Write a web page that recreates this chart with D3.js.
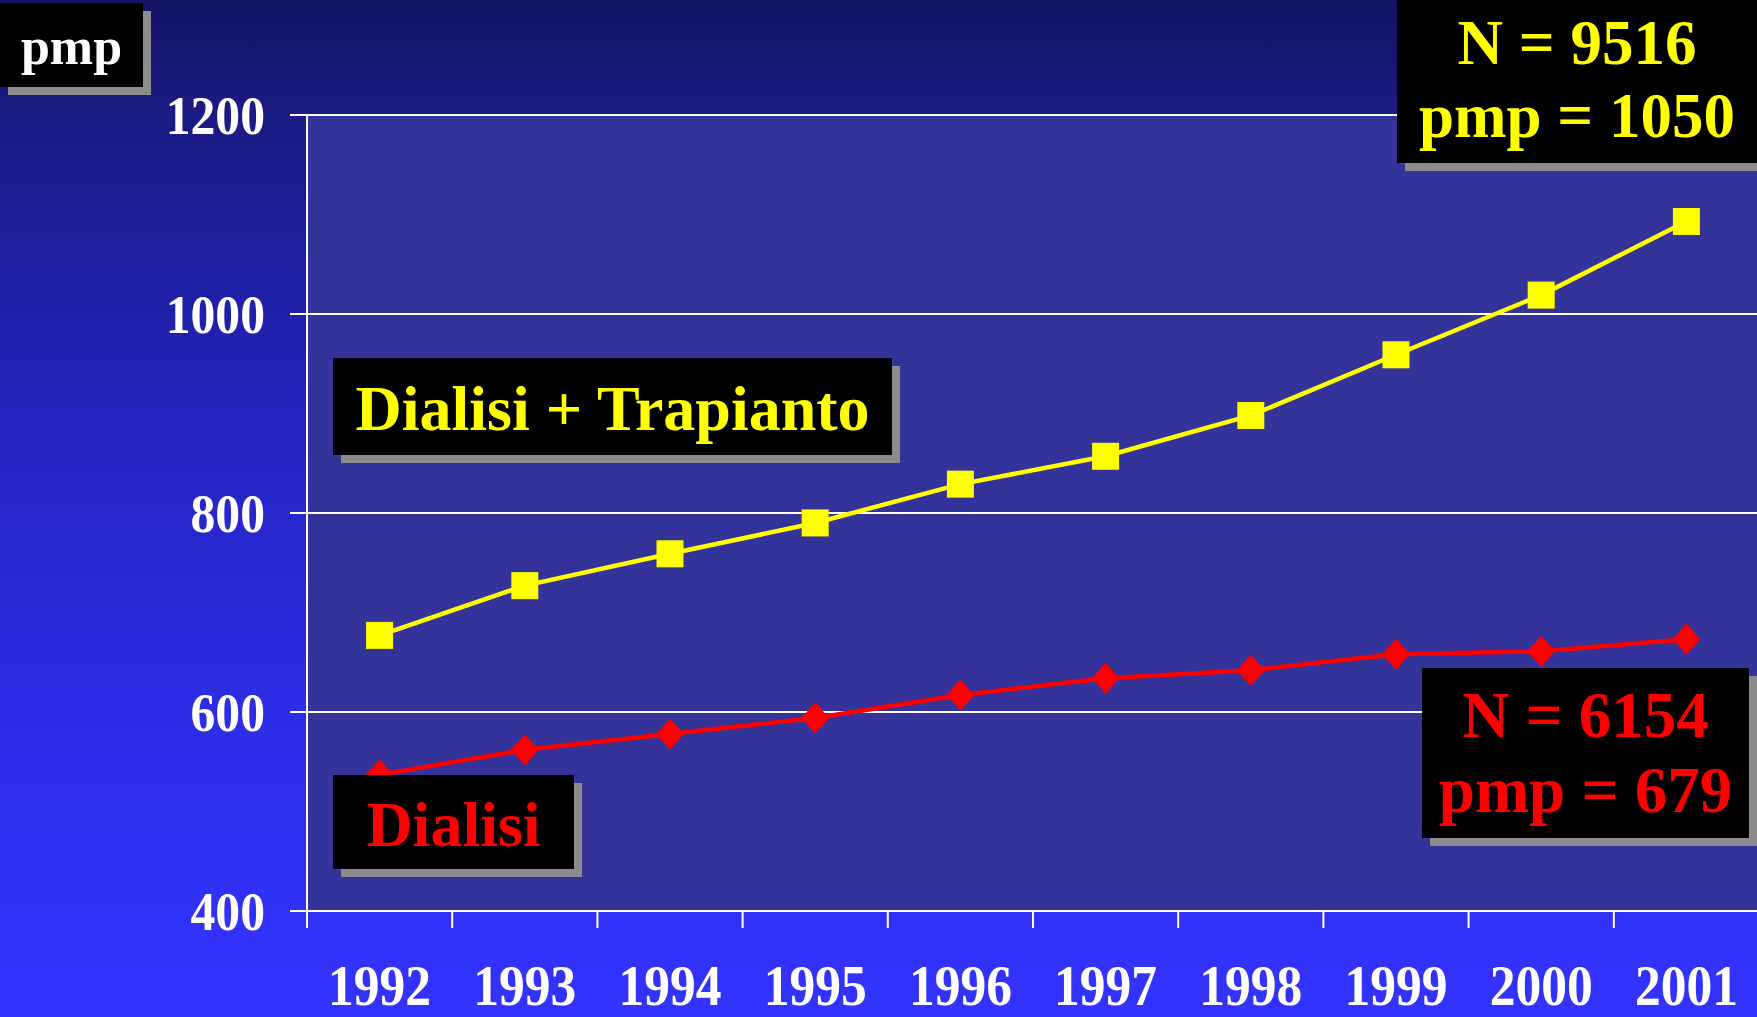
<!DOCTYPE html>
<html>
<head>
<meta charset="utf-8">
<script src="https://cdn.jsdelivr.net/npm/d3@7"></script>
<style>
  html, body { margin: 0; padding: 0; overflow: hidden; }
  svg { display: block; }
  text { font-family: "Liberation Serif", "Times New Roman", serif; font-weight: bold; }
</style>
</head>
<body>
<div id="chart"></div>
<script>
// data
const years = ["1992", "1993", "1994", "1995", "1996", "1997", "1998", "1999", "2000", "2001"];
const dialisiTrapianto = [677, 727, 759, 790, 829, 857, 898, 959, 1019, 1093];
const dialisi = [537, 562, 578, 594, 617, 634, 642, 658, 661, 673];
const yTicks = [400, 600, 800, 1000, 1200];

const width = 1757, height = 1017;
const margin = {top: 115, right: -2, bottom: 106, left: 307};

let svg = d3.select("#chart").append("svg")
  .attr("width", width)
  .attr("height", height);

// background gradient, dark navy at the top to bright blue
let defs = svg.append("defs");
let grad = defs.append("linearGradient")
  .attr("id", "bg")
  .attr("x1", 0).attr("y1", 0).attr("x2", 0).attr("y2", 1);
[[0, "#141462"], [0.1, "#1a1a80"], [0.4, "#2323bd"], [0.7, "#2d2de6"], [1, "#3333ff"]]
  .forEach(s => grad.append("stop").attr("offset", s[0]).attr("stop-color", s[1]));

svg.append("rect").attr("width", width).attr("height", height).attr("fill", "url(#bg)");

let x = d3.scaleBand()
  .domain(years)
  .range([margin.left, width - margin.right]);

let y = d3.scaleLinear()
  .domain([400, 1200])
  .range([height - margin.bottom, margin.top]);

// plot area
svg.append("rect")
  .attr("x", x.range()[0])
  .attr("y", y(1200))
  .attr("width", x.range()[1] - x.range()[0])
  .attr("height", y(400) - y(1200))
  .attr("fill", "#333399");

// gridlines
svg.append("g")
  .selectAll("line")
  .data(yTicks)
  .enter()
  .append("line")
  .attr("x1", margin.left - 17)
  .attr("x2", width)
  .attr("y1", d => y(d))
  .attr("y2", d => y(d))
  .attr("stroke", "white")
  .attr("stroke-width", 2);

// y axis line
svg.append("line")
  .attr("x1", margin.left).attr("x2", margin.left)
  .attr("y1", y(1200)).attr("y2", y(400) + 17)
  .attr("stroke", "white").attr("stroke-width", 2);

// x ticks at band boundaries
svg.append("g")
  .selectAll("line")
  .data(years.slice(1))
  .enter()
  .append("line")
  .attr("x1", d => x(d)).attr("x2", d => x(d))
  .attr("y1", y(400)).attr("y2", y(400) + 17)
  .attr("stroke", "white").attr("stroke-width", 2);

// y tick labels
svg.append("g")
  .selectAll("text")
  .data(yTicks)
  .enter()
  .append("text")
  .attr("class", "squeeze")
  .attr("x", 265)
  .attr("y", d => y(d) + 19)
  .attr("text-anchor", "end")
  .attr("font-size", 54)
  .attr("fill", "white")
  .text(d => d);

// x tick labels
svg.append("g")
  .selectAll("text")
  .data(years)
  .enter()
  .append("text")
  .attr("class", "squeeze")
  .attr("x", d => x(d) + x.bandwidth() / 2)
  .attr("y", 1005)
  .attr("text-anchor", "middle")
  .attr("font-size", 56)
  .attr("fill", "white")
  .text(d => d);

// series
let line = d3.line()
  .x((d, i) => x(years[i]) + x.bandwidth() / 2)
  .y(d => y(d));

svg.append("path")
  .datum(dialisiTrapianto)
  .attr("d", line)
  .attr("fill", "none")
  .attr("stroke", "#ffff00")
  .attr("stroke-width", 4.5);

svg.append("path")
  .datum(dialisi)
  .attr("d", line)
  .attr("fill", "none")
  .attr("stroke", "#ff0000")
  .attr("stroke-width", 4.5);

svg.append("g")
  .selectAll("path")
  .data(dialisiTrapianto)
  .enter()
  .append("path")
  .attr("d", d3.symbol().type(d3.symbolSquare).size(27 * 27))
  .attr("transform", (d, i) => "translate(" + (x(years[i]) + x.bandwidth() / 2) + "," + y(d) + ")")
  .attr("fill", "#ffff00");

// wide diamond like the original markers
const wideDiamond = {
  draw(ctx, size) {
    let h = Math.sqrt(size) / 2;
    let w = h * 0.9;
    ctx.moveTo(0, -h);
    ctx.lineTo(w, 0);
    ctx.lineTo(0, h);
    ctx.lineTo(-w, 0);
    ctx.closePath();
  }
};

svg.append("g")
  .selectAll("path")
  .data(dialisi)
  .enter()
  .append("path")
  .attr("d", d3.symbol().type(wideDiamond).size(31 * 31))
  .attr("transform", (d, i) => "translate(" + (x(years[i]) + x.bandwidth() / 2) + "," + y(d) + ")")
  .attr("fill", "#ff0000");

// boxes with gray drop shadow
function labelBox(x0, y0, x1, y1, lines, color, size) {
  let g = svg.append("g");
  g.append("rect")
    .attr("x", x0 + 8).attr("y", y0 + 8)
    .attr("width", x1 - x0).attr("height", y1 - y0)
    .attr("fill", "#8c8c8c");
  g.append("rect")
    .attr("x", x0).attr("y", y0)
    .attr("width", x1 - x0).attr("height", y1 - y0)
    .attr("fill", "#000000");
  lines.forEach(l => {
    g.append("text")
      .attr("x", (x0 + x1) / 2)
      .attr("y", l.y)
      .attr("text-anchor", "middle")
      .attr("font-size", size)
      .attr("fill", color)
      .text(l.t);
  });
}

labelBox(0, 3, 143, 87, [{t: "pmp", y: 64}], "white", 52);
labelBox(1397, -10, 1757, 163, [{t: "N = 9516", y: 64}, {t: "pmp = 1050", y: 137}], "#ffff00", 63);
labelBox(333, 358, 892, 455, [{t: "Dialisi + Trapianto", y: 430}], "#ffff00", 64);
labelBox(333, 775, 574, 869, [{t: "Dialisi", y: 846}], "#ff0000", 64);
labelBox(1422, 668, 1749, 838, [{t: "N = 6154", y: 737}, {t: "pmp = 679", y: 812}], "#ff0000", 65);

// tick labels look slightly condensed in the original
svg.selectAll("text.squeeze").each(function() {
  let len = this.getComputedTextLength();
  d3.select(this).attr("textLength", len * 0.92).attr("lengthAdjust", "spacingAndGlyphs");
});
</script>
</body>
</html>
